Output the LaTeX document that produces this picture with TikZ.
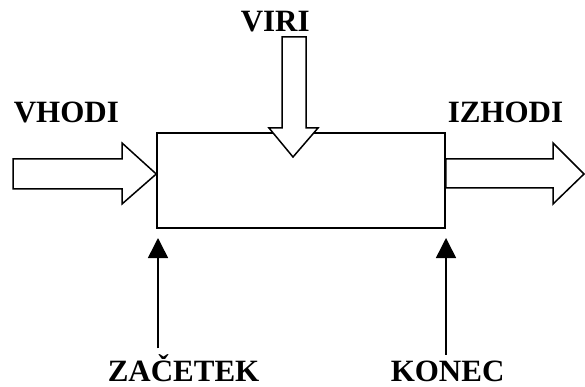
\documentclass[tikz,border=0pt]{standalone}
\usepackage{fontspec}
\setmainfont{Liberation Serif}
\usetikzlibrary{arrows.meta}

\begin{document}
\begin{tikzpicture}[x=1pt, y=-1pt, line width=1.5pt,
  lbl/.style={font=\fontsize{31}{31}\selectfont\bfseries, inner sep=0pt, anchor=base west},
  hollow/.style={draw, fill=white, line join=miter},
  pointer/.style={-{Triangle[length=20pt,width=20pt]}}]
  \useasboundingbox (0,0) rectangle (585,387);
  % the process box
  \node[draw, inner sep=0pt, minimum width=288pt, minimum height=95pt] (proc) at (301,180.5) {};
  % labels
  \node[lbl] (vhodi) at (13,123) {VHODI};
  \node[lbl] (viri) at (240,32) {VIRI};
  \node[lbl] (izhodi) at (447,123) {IZHODI};
  \node[lbl] (zacetek) at (107,381) {ZAČETEK};
  \node[lbl] (konec) at (390,381) {KONEC};
  % block arrows: in, resources, out
  \draw[hollow] (13,159) -- (122,159) -- (122,143) -- (proc.west |- 0,174) -- (122,204) -- (122,189) -- (13,189) -- cycle;
  \draw[hollow] (282,37) -- (306,37) -- (306,128) -- (318,128) -- (293,157) -- (269,128) -- (282,128) -- cycle;
  \draw[hollow] (proc.east |- 0,159) -- (553,159) -- (553,143) -- (584,174) -- (553,204) -- (553,188) -- (proc.east |- 0,188) -- cycle;
  % start / end triggers
  \coordinate (startTop) at (158,238);
  \coordinate (endTop) at (446,238);
  \draw[pointer] (zacetek.north -| startTop) ++(0,-5) -- (startTop);
  \draw[pointer] (konec.north -| endTop) ++(0,-5) -- (endTop);
\end{tikzpicture}
\end{document}
